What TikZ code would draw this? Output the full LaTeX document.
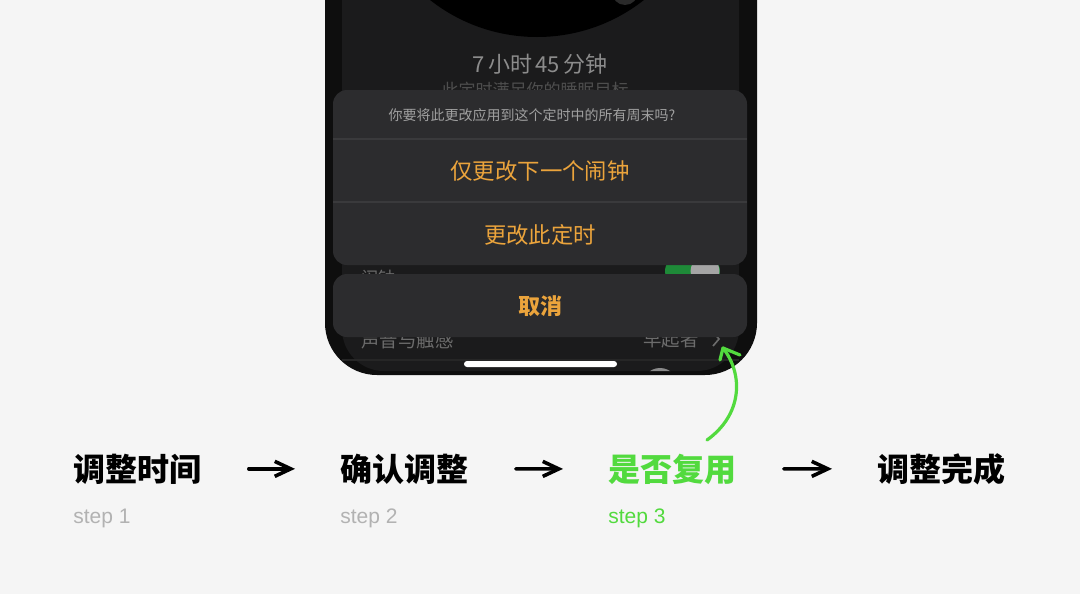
\documentclass[tikz,border=0pt]{standalone}
\usepackage{fontspec}
\setmainfont{Liberation Sans}
\newfontfamily\cjk{Noto Sans CJK SC}
\usetikzlibrary{arrows.meta}
\definecolor{bgc}{HTML}{F5F5F5}
\definecolor{framec}{HTML}{0E0E0E}
\definecolor{screenc}{HTML}{1B1B1C}
\definecolor{sheetc}{HTML}{2C2C2E}
\definecolor{divc}{HTML}{3A3A3C}
\definecolor{orangec}{HTML}{EBA43C}
\definecolor{greenc}{HTML}{52DA3E}
\definecolor{stepgrey}{HTML}{B2B2B2}
\definecolor{dimtext}{HTML}{6C6C6C}
\definecolor{qgrey}{HTML}{A0A0A0}
\definecolor{timegrey}{HTML}{8C8C8C}
\definecolor{goalgrey}{HTML}{4E4E4E}
\definecolor{blobc}{HTML}{2A2A2A}
\definecolor{knobc}{HTML}{A5A5A5}
\definecolor{knobc2}{HTML}{8A8A8A}
\definecolor{rowline}{HTML}{262626}
\definecolor{togglegreen}{HTML}{1E8A38}
\begin{document}
\begin{tikzpicture}[x=0.5pt,y=-0.5pt,
  title/.style={anchor=base west, inner sep=0pt, font=\cjk\bfseries\fontsize{16}{16}\selectfont},
  steplbl/.style={anchor=base west, inner sep=0pt, font=\fontsize{10.5}{10.5}\selectfont, text=stepgrey},
  handarrow/.style={line width=1.8pt, line cap=round, -{Straight Barb[length=8pt,width=7.5pt]}},
  sheet/.style={fill=sheetc, rounded corners=7pt},
  btn/.style={font=\cjk\fontsize{11.2}{11.2}\selectfont, text=orangec, inner sep=0pt},
  behind/.style={font=\cjk\fontsize{9.2}{9.2}\selectfont, text=dimtext, inner sep=0pt, anchor=west},
  greenarrow/.style={draw=greenc, line width=1.6pt, line cap=round, line join=round}]
\path[use as bounding box, fill=bgc] (0,0) rectangle (1080,594);

% phone body
\fill[framec] (325,-20) {[rounded corners=26pt] -- (325,375) -- (757,375)} -- (757,-20) -- cycle;
\fill[screenc] (342,-20) {[rounded corners=21pt] -- (342,371) -- (739,371)} -- (739,-20) -- cycle;

% dial
\fill[black] (537,-136) circle[radius=86.5pt];
\fill[blobc] (625,-8) circle[radius=6.5pt];

\node[font=\cjk\fontsize{11}{11}\selectfont, text=timegrey, inner sep=0pt] (dur) at (540,64) {7\,小时\,45\,分钟};
\node[font=\cjk\fontsize{8.5}{8.5}\selectfont, text=goalgrey, inner sep=0pt] (goal) at (535,90) {此定时满足你的睡眠目标};

% rows behind the sheet
\node[behind, font=\cjk\fontsize{8.6}{8.6}\selectfont] (alarm) at (361,278) {闹钟};
\fill[togglegreen, rounded corners=7pt] (665,257) rectangle (720,285);
\fill[knobc] (705,271) circle[radius=7.2pt];
\node[behind] (sound) at (361,340) {声音与触感};
\node[behind] (early) at (643,340) {早起者};
\draw[dimtext, line width=0.8pt] (713,332) -- (719,339) -- (713,346);
\draw[rowline, line width=0.6pt] (342,360) -- (739,360);
\begin{scope}
\clip (342,-20) {[rounded corners=21pt] -- (342,371) -- (739,371)} -- (739,-20) -- cycle;
\fill[knobc2] (660,386) circle[radius=9pt];
\end{scope}
\fill[white, rounded corners=1.5pt] (464,361) rectangle (617,367);

% action sheet
\fill[sheet] (333,90) rectangle (747,265);
\draw[divc, line width=0.6pt] (333,139) -- (747,139);
\draw[divc, line width=0.6pt] (333,202) -- (747,202);
\node[font=\cjk\fontsize{7}{7}\selectfont, text=qgrey, inner sep=0pt] (q) at (532,115) {你要将此更改应用到这个定时中的所有周末吗?};
\node[btn] (b1) at (540,171) {仅更改下一个闹钟};
\node[btn] (b2) at (540,235) {更改此定时};
\fill[sheet] (333,274) rectangle (747,337);
\node[btn, font=\cjk\bfseries\fontsize{11}{11}\selectfont] (cancel) at (540,306) {取消};

% green hand-drawn arrow
\coordinate (gstart) at (707,440);
\coordinate (gtip) at (723,348);
\draw[greenarrow] (gstart) .. controls (742,415) and (744,375) .. (gtip);
\draw[greenarrow] (gtip) -- ++(-3,12);
\draw[greenarrow] (gtip) -- ++(17,7);

% steps
\node[title] (t1) at (73,481) {调整时间};
\node[title] (t2) at (340,481) {确认调整};
\node[title, text=greenc] (t3) at (608,481) {是否复用};
\node[title] (t4) at (877,481) {调整完成};
\node[steplbl] (s1) at (73,523) {step 1};
\node[steplbl] (s2) at (340,523) {step 2};
\node[steplbl, text=greenc] (s3) at (608,523) {step 3};

\draw[handarrow, shorten <=23.5pt, shorten >=22.5pt] (t1.east) -- (t2.west);
\draw[handarrow, shorten <=23.5pt, shorten >=22.5pt] (t2.east) -- (t3.west);
\draw[handarrow, shorten <=23.5pt, shorten >=22.5pt] (t3.east) -- (t4.west);
\end{tikzpicture}
\end{document}
